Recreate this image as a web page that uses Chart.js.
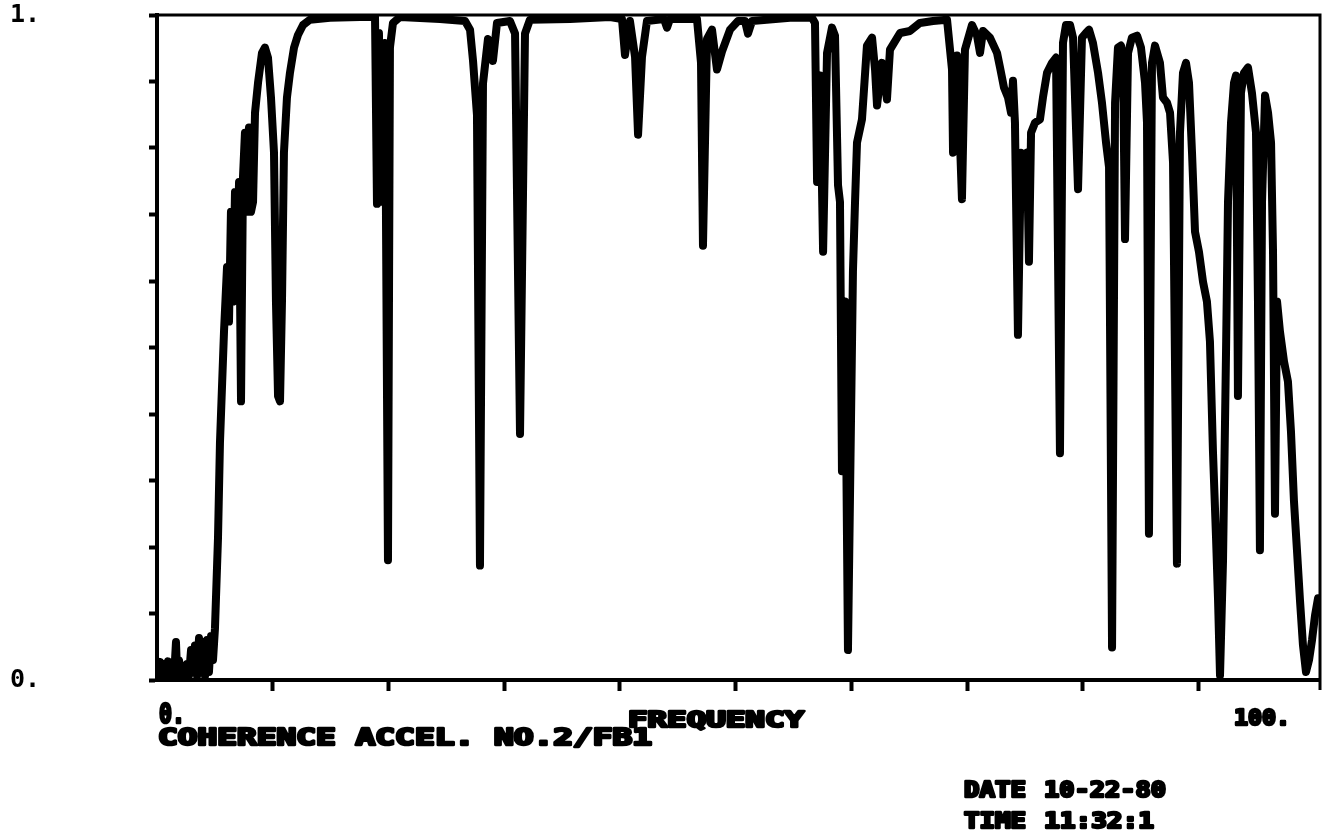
<!DOCTYPE html>
<html>
<head>
<meta charset="utf-8">
<script src="https://cdn.jsdelivr.net/npm/chart.js@4.4.1/dist/chart.umd.min.js"></script>
<style>
    html, body { margin: 0; padding: 0; background: #fff; }
</style>
</head>
<body>
<canvas id="coherence-graphic" width="1324" height="834"></canvas>
<script>
// Values

var freq = [
    0, 0.09, 0.26, 0.43, 0.60, 0.78, 0.95, 1.12, 1.30, 1.47, 1.64, 1.73, 1.90, 2.07, 2.25, 2.42, 2.59, 2.77, 2.94, 3.11,
    3.28, 3.46, 3.63, 3.80, 3.98, 4.15, 4.32, 4.49, 4.67, 4.84, 5.01,
    5.27, 5.44, 5.79, 6.05, 6.22, 6.39, 6.57, 6.74, 6.91, 7.09, 7.26, 7.43, 7.60, 7.78, 7.95, 8.12, 8.30, 8.47,
    8.73, 9.07, 9.33, 9.59, 9.85, 10.11, 10.28, 10.46, 10.63, 10.80, 10.97, 11.23, 11.49, 11.84, 12.18, 12.62, 13.22, 14.95, 17.54, 18.84,
    19.01, 19.18, 19.36, 19.53, 19.70, 19.96, 20.13, 20.39, 21.00, 24.46, 26.62, 27.05, 27.31, 27.65, 27.91, 28.17, 28.60, 29.03, 29.38, 30.50,
    30.94, 31.37, 31.80, 32.23, 35.69, 39.15, 40.18, 40.44, 40.87, 41.31, 41.57, 41.91, 42.34, 43.81, 44.07, 44.33, 46.66, 47.01, 47.18, 47.53,
    47.96, 48.39, 48.82, 49.52, 50.21, 50.81, 51.07, 51.42, 54.70, 56.60, 56.86, 57.04, 57.30, 57.56, 57.90, 58.33, 58.59, 58.85, 59.02, 59.19,
    59.45, 59.71, 59.97, 60.14, 60.32, 60.49, 60.92, 61.35, 61.79, 62.05, 62.22, 62.65, 63.08, 63.34, 64.21, 65.07, 65.93, 67.06, 68.27, 68.70,
    68.79, 69.13, 69.56, 69.82, 70.43, 70.86, 71.12, 71.38, 71.98, 72.59, 72.85, 73.19, 73.54, 73.80, 73.97, 74.14, 74.40, 74.66, 74.92, 75.18,
    75.35, 75.53, 75.87, 76.30, 76.56, 76.91, 77.34, 77.69, 78.03, 78.29, 78.55, 78.90, 79.16, 79.59, 79.93, 80.28, 80.54, 80.88, 81.32, 81.66,
    82.01, 82.27, 82.53, 82.79, 83.04, 83.30, 83.48, 83.65, 83.91, 84.25, 84.69, 85.03, 85.38, 85.55, 85.72, 85.98, 86.24, 86.67, 86.93, 87.28,
    87.54, 87.80, 88.14, 88.40, 88.66, 88.92, 89.18, 89.44, 89.70, 90.04, 90.39, 90.73, 90.99, 91.25, 91.51, 91.69, 91.86, 92.12, 92.38, 92.55,
    92.81, 93.07, 93.24, 93.41, 93.67, 93.93, 94.28, 94.62, 94.97, 95.14, 95.31, 95.49, 95.75, 96.01, 96.27, 96.44, 96.61, 96.79, 97.04, 97.39,
    97.73, 97.99, 98.25, 98.51, 98.77, 99.03, 99.29, 99.55, 99.81, 100.07, 100.33
];

var coherence = [
    0.028, 0.006, 0.027, 0.001, 0.024, 0.003, 0.028, 0.006, 0.022, 0.003, 0.057, 0.015, 0.030, 0.006, 0.018, 0.001, 0.024, 0.007, 0.045, 0.012,
    0.052, 0.006, 0.063, 0.012, 0.057, 0.006, 0.060, 0.012, 0.066, 0.030, 0.078,
    0.213, 0.356, 0.524, 0.621, 0.539, 0.704, 0.569, 0.734, 0.629, 0.749, 0.419, 0.756, 0.823, 0.704, 0.831, 0.704, 0.719, 0.853,
    0.898, 0.943, 0.951, 0.936, 0.876, 0.793, 0.569, 0.427, 0.419, 0.569, 0.793, 0.876, 0.913, 0.951, 0.970, 0.985, 0.993, 0.996, 0.997, 0.997,
    0.716, 0.973, 0.719, 0.928, 0.958, 0.180, 0.951, 0.988, 0.997, 0.994, 0.991, 0.978, 0.931, 0.850, 0.172, 0.897, 0.964, 0.931, 0.988, 0.991,
    0.972, 0.370, 0.972, 0.993, 0.994, 0.997, 0.994, 0.940, 0.991, 0.937, 0.820, 0.937, 0.991, 0.994, 0.981, 0.994, 0.994, 0.928, 0.653, 0.964,
    0.978, 0.918, 0.945, 0.978, 0.991, 0.991, 0.972, 0.991, 0.996, 0.996, 0.988, 0.749, 0.909, 0.644, 0.943, 0.981, 0.969, 0.744, 0.719, 0.314,
    0.569, 0.045, 0.389, 0.614, 0.719, 0.808, 0.843, 0.954, 0.966, 0.918, 0.864, 0.928, 0.873, 0.948, 0.973, 0.976, 0.988, 0.991, 0.993, 0.918,
    0.793, 0.939, 0.723, 0.948, 0.985, 0.969, 0.943, 0.976, 0.966, 0.943, 0.921, 0.891, 0.876, 0.853, 0.901, 0.838, 0.519, 0.793, 0.778, 0.793,
    0.629, 0.823, 0.838, 0.843, 0.876, 0.913, 0.928, 0.936, 0.341, 0.958, 0.985, 0.985, 0.966, 0.738, 0.966, 0.973, 0.978, 0.958, 0.913, 0.868,
    0.808, 0.771, 0.049, 0.868, 0.951, 0.954, 0.928, 0.663, 0.943, 0.966, 0.969, 0.951, 0.898, 0.838, 0.220, 0.928, 0.954, 0.928, 0.876, 0.868,
    0.853, 0.778, 0.175, 0.823, 0.913, 0.928, 0.898, 0.793, 0.674, 0.644, 0.599, 0.569, 0.509, 0.344, 0.217, 0.120, 0.007, 0.180, 0.494, 0.719,
    0.838, 0.898, 0.909, 0.427, 0.883, 0.913, 0.921, 0.883, 0.823, 0.569, 0.195, 0.719, 0.879, 0.853, 0.808, 0.644, 0.250, 0.569, 0.524, 0.479,
    0.449, 0.374, 0.269, 0.195, 0.120, 0.052, 0.012, 0.030, 0.060, 0.097, 0.123
];

var xMax = 100.5;
var xTickValues = [10, 20, 30, 40, 50, 60, 70, 80, 90];
var yTickValues = [0, 0.1, 0.2, 0.3, 0.4, 0.5, 0.6, 0.7, 0.8, 0.9, 1];
var yTickLabels = { 0: "0.", 1: "1." };

var xStartLabel = "0.";
var xAxisTitle = "FREQUENCY";
var xEndLabel = "100.";
var plotTitle = "COHERENCE ACCEL. NO.2/FB1";
var dateLine = ["DATE", "10-22-80"];
var timeLine = ["TIME", "11:32:1"];

var points = freq.map((f, i) => ({ x: f, y: coherence[i] }));

// plotter style text, stretched to the width the pen used
function penText(ctx, text, x, baseline, width, size) {
    ctx.save();
    ctx.font = "bold " + size + "px 'DejaVu Sans Mono'";
    var w = ctx.measureText(text).width;
    ctx.translate(x, baseline);
    ctx.scale(width / w, 1);
    ctx.fillStyle = "#000";
    ctx.strokeStyle = "#000";
    ctx.lineWidth = 2.6;
    ctx.lineJoin = "round";
    ctx.fillText(text, 0, 0);
    ctx.strokeText(text, 0, 0);
    ctx.restore();
}

var sheetPlugin = {
    id: "sheet",
    afterDraw(chart) {
        var ctx = chart.ctx;
        var a = chart.chartArea;

        // top and right edge of the frame
        ctx.save();
        ctx.strokeStyle = "#000";
        ctx.lineWidth = 3;
        ctx.beginPath();
        ctx.moveTo(a.left, a.top);
        ctx.lineTo(a.right, a.top);
        ctx.lineTo(a.right, a.bottom + 10);
        ctx.stroke();
        ctx.restore();

        penText(ctx, xStartLabel, 159, 723, 26, 26);
        penText(ctx, xAxisTitle, 628, 727, 176, 22);
        penText(ctx, xEndLabel, 1234, 725, 56, 22);
        penText(ctx, plotTitle, 158, 745, 494, 23);
        penText(ctx, dateLine[0], 964, 797, 62, 22);
        penText(ctx, dateLine[1], 1044, 797, 122, 22);
        penText(ctx, timeLine[0], 964, 828, 62, 22);
        penText(ctx, timeLine[1], 1044, 828, 110, 22);
    }
};

var ctx = document.getElementById("coherence-graphic").getContext("2d");

var chart = new Chart(ctx, {
    type: "line",
    data: {
        datasets: [
            {
                label: "Coherence",
                data: points,
                borderColor: "#000",
                borderWidth: 8,
                borderJoinStyle: "round",
                borderCapStyle: "round",
                pointRadius: 0,
                tension: 0,
                fill: false,
            },
        ],
    },
    options: {
        responsive: false,
        animation: false,
        layout: { padding: { left: 10, top: 12, right: 4, bottom: 0 } },
        plugins: {
            legend: { display: false },
            tooltip: { enabled: false },
        },
        scales: {
            x: {
                type: "linear",
                min: 0,
                max: xMax,
                afterBuildTicks: (scale) => {
                    scale.ticks = xTickValues.map((v) => ({ value: v }));
                },
                afterFit: (scale) => {
                    scale.height = 154;
                },
                border: { color: "#000", width: 4 },
                grid: { drawOnChartArea: false, tickLength: 11, tickWidth: 4, tickColor: "#000" },
                ticks: { callback: () => "" },
            },
            y: {
                min: 0,
                max: 1,
                afterBuildTicks: (scale) => {
                    scale.ticks = yTickValues.map((v) => ({ value: v }));
                },
                afterFit: (scale) => {
                    scale.width = 147;
                },
                border: { color: "#000", width: 4 },
                grid: { drawOnChartArea: false, tickLength: 8, tickWidth: 4, tickColor: "#000" },
                ticks: {
                    crossAlign: "far",
                    padding: 0,
                    color: "#000",
                    font: { family: "DejaVu Sans Mono", weight: "bold", size: 25 },
                    callback: (v) => yTickLabels[v] || "",
                },
            },
        },
    },
    plugins: [sheetPlugin],
});
</script>
</body>
</html>
